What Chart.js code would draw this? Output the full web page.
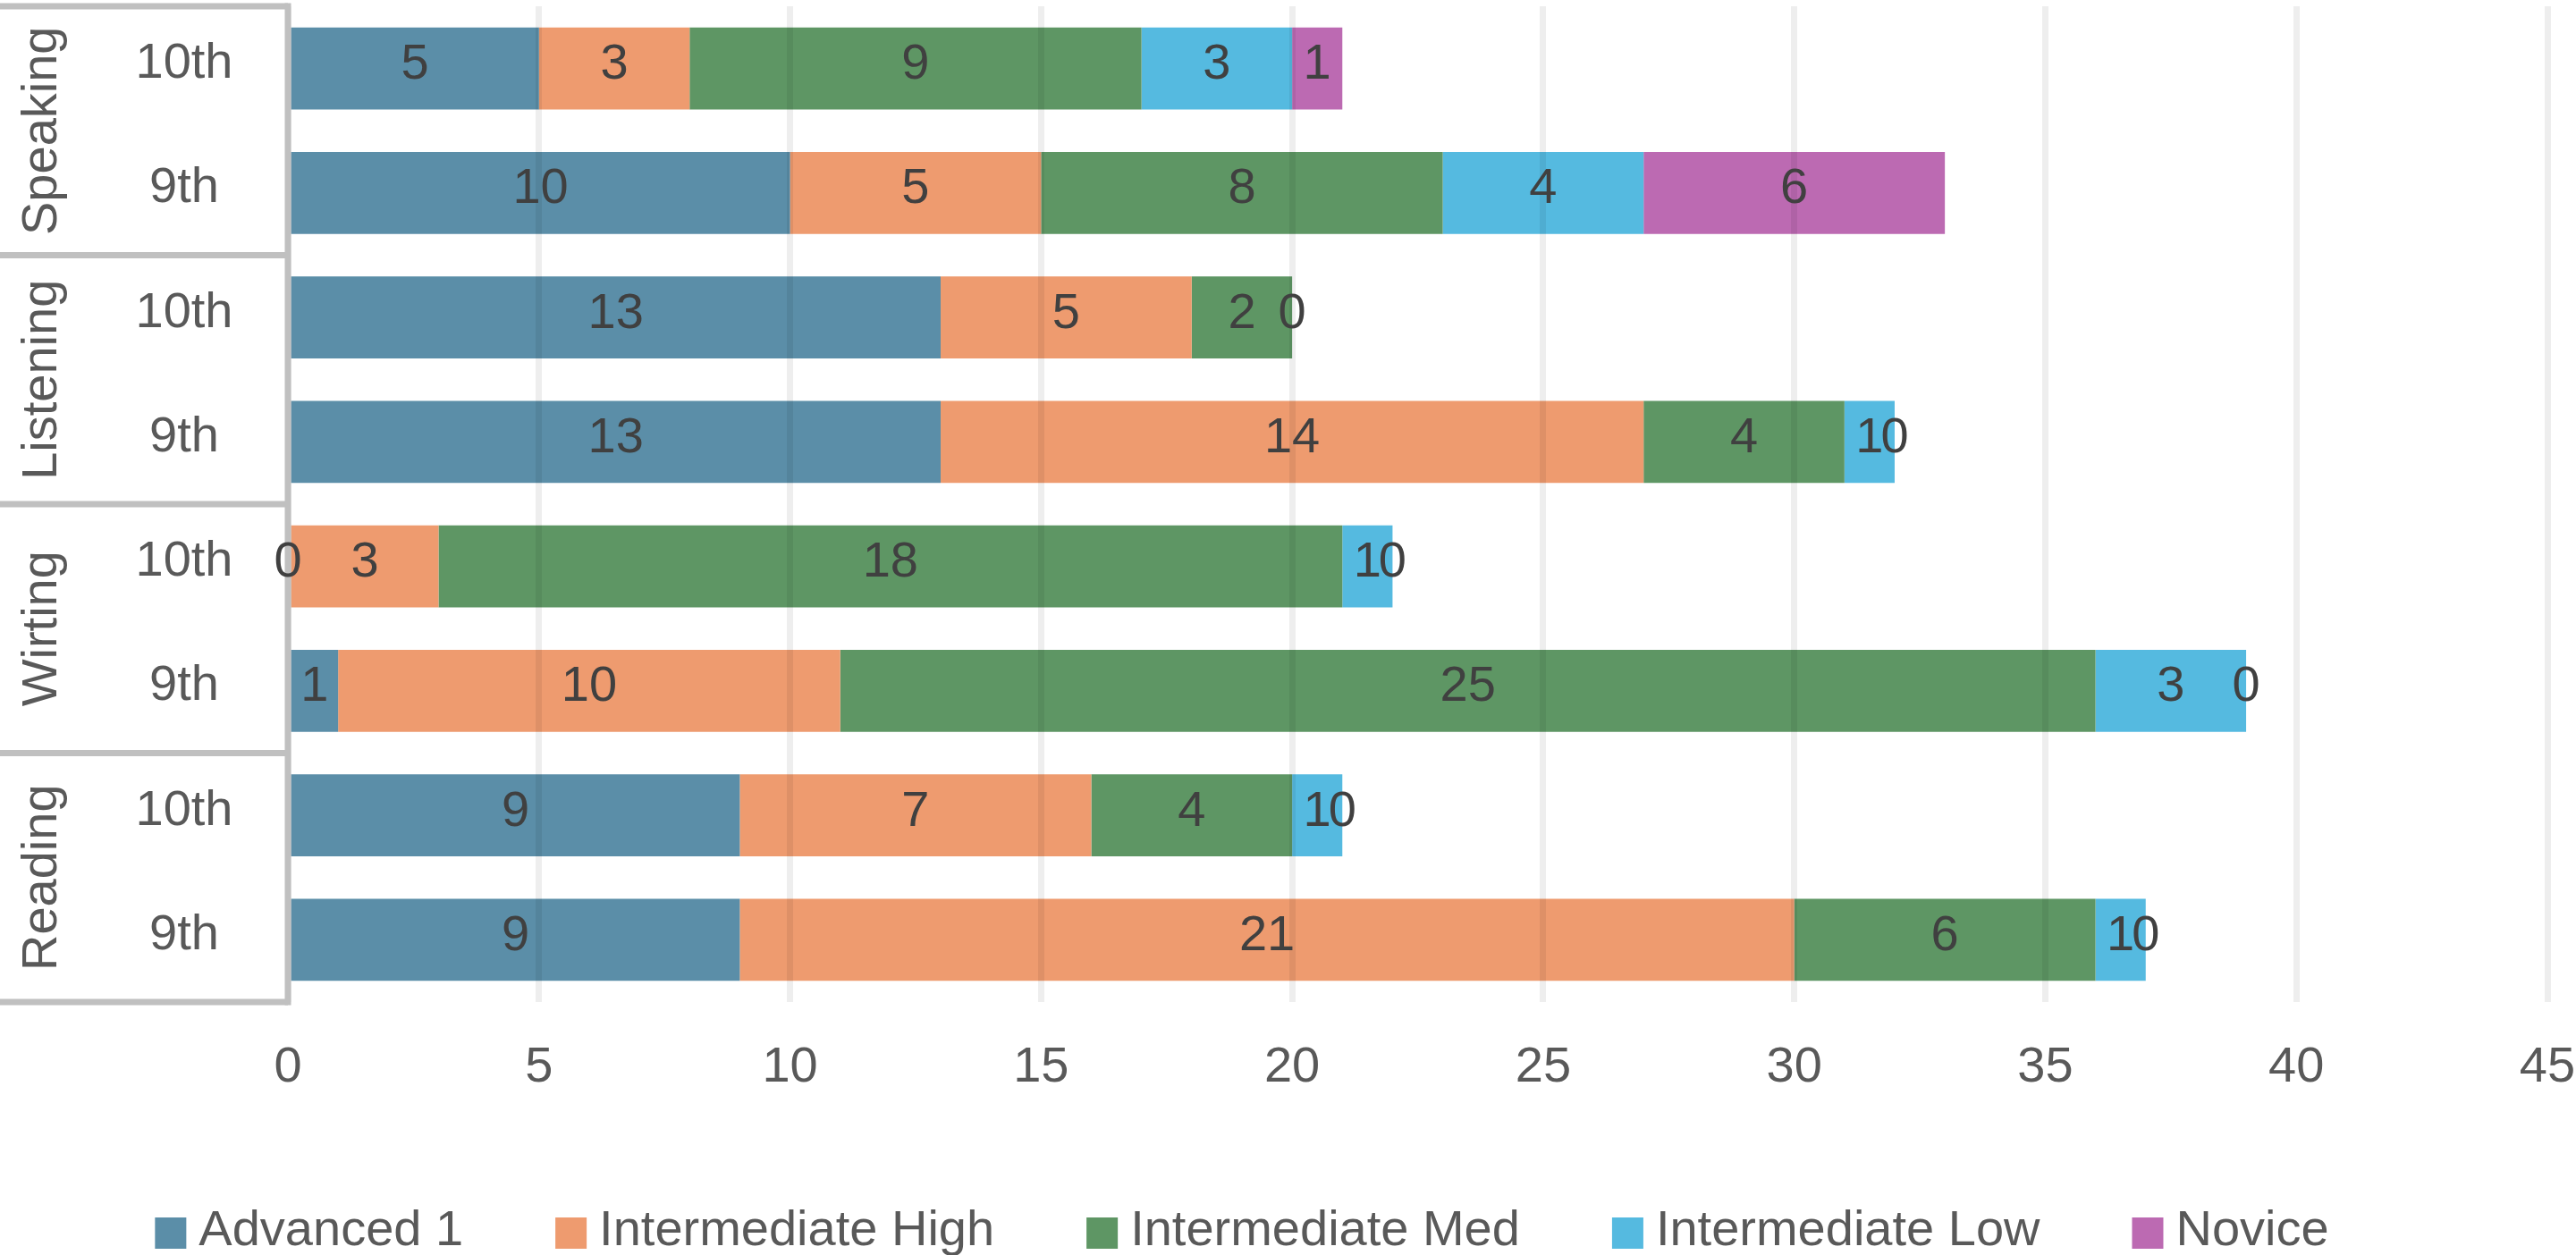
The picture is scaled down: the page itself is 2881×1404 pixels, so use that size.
<!DOCTYPE html>
<html>
<head>
<meta charset="utf-8">
<script src="https://cdn.jsdelivr.net/npm/chart.js@4.4.1/dist/chart.umd.min.js"></script>
<style>
  html, body { margin: 0; padding: 0; background: #ffffff; }
  canvas { display: block; }
</style>
</head>
<body>
<canvas id="chart" width="2881" height="1404"></canvas>
<script>
// Skill groups (outer category level) and grades (inner level), top to bottom
const skills = ['Speaking', 'Listening', 'Wirting', 'Reading'];
const grades = ['10th', '9th'];

// Proficiency levels (stack order, left to right)
const levelNames = ['Advanced 1', 'Intermediate High', 'Intermediate Med', 'Intermediate Low', 'Novice'];

// Student counts per row: Speaking 10th, Speaking 9th, Listening 10th, Listening 9th,
// Wirting 10th, Wirting 9th, Reading 10th, Reading 9th
const advanced1        = [5, 10, 13, 13, 0, 1, 9, 9];
const intermediateHigh = [3, 5, 5, 14, 3, 10, 7, 21];
const intermediateMed  = [9, 8, 2, 4, 18, 25, 4, 6];
const intermediateLow  = [3, 4, 0, 1, 1, 3, 1, 1];
const novice           = [1, 6, null, 0, 0, 0, 0, 0];

// Value axis
const xMin = 0;
const xMax = 45;
const xStep = 5;

const levelColors = ['#5B8EA8', '#EE9B6F', '#5E9664', '#55BAE0', '#BC6AB2'];

const FONT_FAMILY = "'Liberation Sans', Arial, sans-serif";
const FONT_SIZE = 56;
const TEXT_GREY = '#595959';
const LABEL_DARK = '#404040';

const rowLabels = skills.flatMap(s => grades.map(g => s + ' ' + g));
const seriesValues = [advanced1, intermediateHigh, intermediateMed, intermediateLow, novice];

// Two-level category axis: boxed skill names + grade names, drawn from the y scale
const groupedAxis = {
  id: 'groupedAxis',
  afterDraw(chart) {
    const { ctx, chartArea: ca, scales } = chart;
    const y = scales.y;
    const step = y.getPixelForValue(1) - y.getPixelForValue(0);
    ctx.save();
    ctx.strokeStyle = '#C0C0C0';
    ctx.lineWidth = 7;
    ctx.lineCap = 'butt';
    // horizontal separators between skill groups
    for (let g = 0; g <= skills.length; g++) {
      const yy = y.getPixelForValue(g * grades.length) - step / 2;
      ctx.beginPath();
      ctx.moveTo(0, yy);
      ctx.lineTo(ca.left, yy);
      ctx.stroke();
    }
    // axis line
    const yTop = y.getPixelForValue(0) - step / 2;
    const yBot = y.getPixelForValue(rowLabels.length - 1) + step / 2;
    ctx.beginPath();
    ctx.moveTo(ca.left, yTop - 3.5);
    ctx.lineTo(ca.left, yBot + 3.5);
    ctx.stroke();

    ctx.fillStyle = TEXT_GREY;
    ctx.font = FONT_SIZE + 'px ' + FONT_FAMILY;
    // grade labels
    ctx.textAlign = 'center';
    ctx.textBaseline = 'middle';
    rowLabels.forEach((_, i) => {
      const g = grades[i % grades.length];
      ctx.fillText(g, 206, y.getPixelForValue(i) - 5);
    });
    // skill labels, rotated
    skills.forEach((s, k) => {
      const c0 = y.getPixelForValue(k * grades.length);
      const c1 = y.getPixelForValue(k * grades.length + grades.length - 1);
      const cy = (c0 + c1) / 2;
      ctx.save();
      ctx.translate(63, cy);
      ctx.rotate(-Math.PI / 2);
      ctx.textAlign = 'center';
      ctx.textBaseline = 'alphabetic';
      ctx.fillText(s, 0, 0);
      ctx.restore();
    });
    ctx.restore();
  }
};

// Value labels centred in every segment (zero values sit at the stack end)
const segmentLabels = {
  id: 'segmentLabels',
  afterDraw(chart) {
    const ctx = chart.ctx;
    ctx.save();
    ctx.font = FONT_SIZE + 'px ' + FONT_FAMILY;
    ctx.fillStyle = LABEL_DARK;
    ctx.textAlign = 'center';
    ctx.textBaseline = 'middle';
    chart.data.datasets.forEach((ds, di) => {
      const meta = chart.getDatasetMeta(di);
      meta.data.forEach((el, i) => {
        const v = ds.data[i];
        if (v === null || v === undefined) return;
        const cx = (el.x + el.base) / 2;
        ctx.fillText(String(v), cx, el.y - 4);
      });
    });
    ctx.restore();
  }
};

// Legend row along the bottom
const bottomLegend = {
  id: 'bottomLegend',
  afterDraw(chart) {
    const ctx = chart.ctx;
    const box = 35, gap = 14, spacing = 103;
    ctx.save();
    ctx.font = FONT_SIZE + 'px ' + FONT_FAMILY;
    const widths = levelNames.map(n => box + gap + ctx.measureText(n).width);
    const total = widths.reduce((a, b) => a + b, 0) + spacing * (levelNames.length - 1);
    const centerX = (chart.width - spacing) / 2;
    let x = centerX - total / 2;
    const baseline = 1393;
    levelNames.forEach((n, i) => {
      ctx.fillStyle = levelColors[i];
      ctx.fillRect(x, baseline - 31, box, box);
      ctx.fillStyle = TEXT_GREY;
      ctx.textAlign = 'left';
      ctx.textBaseline = 'alphabetic';
      ctx.fillText(n, x + box + gap, baseline);
      x += widths[i] + spacing;
    });
    ctx.restore();
  }
};

new Chart(document.getElementById('chart'), {
  type: 'bar',
  data: {
    labels: rowLabels,
    datasets: levelNames.map((name, i) => ({
      label: name,
      data: seriesValues[i],
      backgroundColor: levelColors[i],
      borderWidth: 0,
      categoryPercentage: 1,
      barPercentage: 0.66
    }))
  },
  options: {
    indexAxis: 'y',
    responsive: false,
    animation: false,
    layout: { autoPadding: false, padding: { left: 322, right: 32, top: 7, bottom: 0 } },
    plugins: {
      legend: { display: false },
      tooltip: { enabled: false }
    },
    scales: {
      x: {
        stacked: true,
        min: xMin,
        max: xMax,
        ticks: {
          stepSize: xStep,
          color: TEXT_GREY,
          font: { family: FONT_FAMILY, size: FONT_SIZE },
          padding: 0
        },
        grid: {
          z: 1,
          color: 'rgba(0,0,0,0.065)',
          lineWidth: 7,
          drawTicks: true,
          tickLength: 40,
          tickColor: 'rgba(0,0,0,0)'
        },
        border: { display: false },
        afterFit(scale) { scale.height = 283; }
      },
      y: {
        stacked: true,
        display: false
      }
    }
  },
  plugins: [groupedAxis, segmentLabels, bottomLegend]
});
</script>
</body>
</html>
